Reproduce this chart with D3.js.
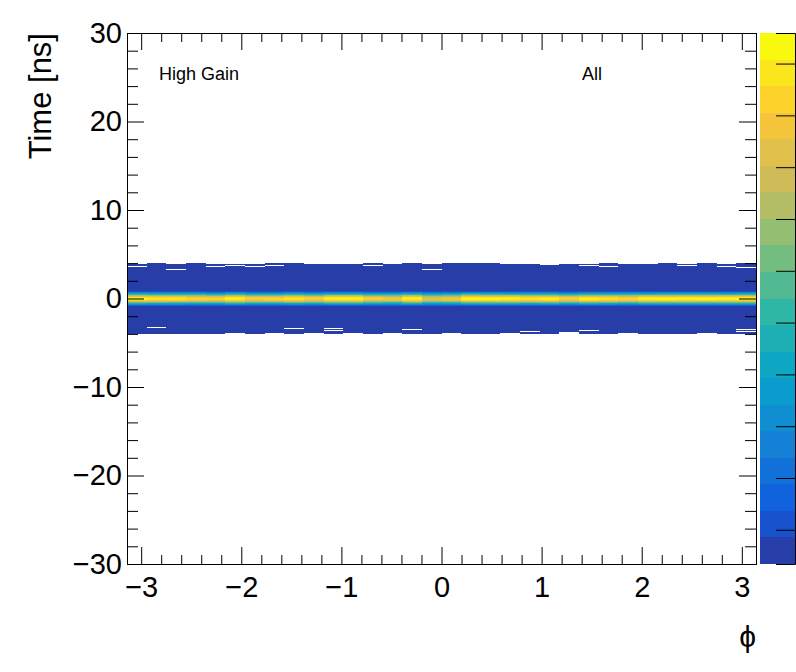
<!DOCTYPE html>
<html>
<head>
<meta charset="utf-8">
<script src="https://cdn.jsdelivr.net/npm/d3@7"></script>
<style>
  body { margin: 0; background: #fff; }
  svg { display: block; }
  text { font-family: "Liberation Sans", Arial, Helvetica, sans-serif; fill: #000; }
</style>
</head>
<body>
<svg id="chart" width="796" height="672"></svg>
<script>
// ---- data ----
var phiRange = [-Math.PI, Math.PI];
var timeRange = [-30, 30];
var nPhiBins = 32;
var timeBinWidth = 0.1;

// peak content of the core (time ~ 0) in each phi bin
var peakCounts = [1040, 1000, 990, 960, 945, 1035, 930, 950, 1000, 930, 1030,
                  1030, 920, 900, 1030, 860, 900, 1055, 1040, 1030, 1000,
                  1020, 930, 1020, 1000, 960, 1030, 1040, 1035, 1040, 1030, 1045];

// relative core shape, bins from t=+0.8 down to t=-0.9
var coreProfile = [0.12, 0.25, 0.38, 0.52, 0.68, 0.82, 0.93, 0.99,
                   1.00, 0.97, 0.90, 0.76, 0.60, 0.44, 0.30, 0.16, 0.07];

// flat background content inside the +-4 ns band
var bgCount = 60;

// upper / lower edge (ns) of the filled band in each phi bin
var bandTop = [3.9, 4.0, 3.9, 4.0, 3.9, 3.9, 3.9, 4.0, 4.0, 3.9, 3.9, 3.9, 4.0, 3.9, 4.0, 3.9,
               4.0, 4.0, 4.0, 3.9, 3.9, 3.8, 3.9, 3.9, 4.0, 3.9, 3.9, 4.0, 3.9, 4.0, 3.9, 4.0];
var bandBottom = [-4.0, -4.0, -4.0, -4.0, -4.0, -3.9, -4.0, -3.9, -4.0, -3.9, -4.0, -3.9, -4.0, -3.9, -4.0, -4.0,
                  -3.9, -4.0, -4.0, -3.9, -4.0, -4.0, -3.8, -4.0, -4.0, -3.9, -4.0, -4.0, -4.0, -3.9, -4.0, -4.0];

// empty bins inside the band: [phi bin, lower time edge]
var emptyCells = [[0, 3.6], [2, 3.4], [2, 3.2], [4, 3.6], [5, 3.7], [6, 3.6], [7, 3.7],
                  [12, 3.7], [15, 3.4], [15, 3.2], [23, 3.7], [24, 3.6], [25, 3.4],
                  [28, 3.7], [30, 3.6], [31, 3.5],
                  [1, -3.3], [8, -3.4], [10, -3.4], [10, -3.7], [12, -3.5], [14, -3.6],
                  [20, -3.8], [23, -3.7], [31, -3.6], [31, -3.8]];

var xMajorTicks = [-3, -2, -1, 0, 1, 2, 3];
var yMajorTicks = [-30, -20, -10, 0, 10, 20, 30];
var zRange = [34, 1059];
var zTicks = [100, 200, 300, 400, 500, 600, 700, 800, 900, 1000];
var nContours = 20;

// kBird palette stops
var birdStops = [0.0, 0.125, 0.25, 0.375, 0.5, 0.625, 0.75, 0.875, 1.0];
var birdRed   = [0.2082, 0.0592, 0.0780, 0.0232, 0.1802, 0.5301, 0.8186, 0.9956, 0.9764];
var birdGreen = [0.1664, 0.3599, 0.5041, 0.6419, 0.7178, 0.7492, 0.7328, 0.7862, 0.9832];
var birdBlue  = [0.5293, 0.8684, 0.8385, 0.7914, 0.6425, 0.4662, 0.3499, 0.1968, 0.0539];

// ---- drawing ----
var svg = d3.select("#chart");
var L = 127, R = 756, T = 33, B = 564;

var x = d3.scaleLinear().domain(phiRange).range([L, R]);
var y = d3.scaleLinear().domain(timeRange).range([B, T]);
var zPos = d3.scaleLinear().domain(zRange).range([B, T]);

var birdColor = d3.scaleLinear()
    .domain(birdStops)
    .range(birdStops.map(function(s, i) {
        return d3.rgb(birdRed[i] * 255, birdGreen[i] * 255, birdBlue[i] * 255);
    }))
    .interpolate(d3.interpolateRgb);

var bandColors = d3.range(nContours).map(function(k) {
    var ci = Math.floor((k + 0.99) * 255 / nContours);
    return birdColor(ci / 255);
});

function bandOf(v) {
    var k = Math.floor((v - zRange[0]) / (zRange[1] - zRange[0]) * nContours);
    return Math.max(0, Math.min(nContours - 1, k));
}

var emptySet = {};
emptyCells.forEach(function(e) { emptySet[e[0] + ":" + Math.round(e[1] * 10)] = true; });

var phiStep = (phiRange[1] - phiRange[0]) / nPhiBins;
var runs = [];
for (var c = 0; c < nPhiBins; c++) {
    var jLo = Math.round(bandBottom[c] / timeBinWidth);
    var jHi = Math.round(bandTop[c] / timeBinWidth);
    var cur = null;
    for (var j = jLo; j < jHi; j++) {
        var v = bgCount;
        var k = 7 - j;
        if (k >= 0 && k < coreProfile.length) v = Math.max(v, peakCounts[c] * coreProfile[k]);
        if (emptySet[c + ":" + j]) v = 0;
        var band = v >= zRange[0] ? bandOf(v) : -1;
        if (cur && cur.band === band) {
            cur.t1 = (j + 1) * timeBinWidth;
        } else {
            if (cur && cur.band >= 0) runs.push(cur);
            cur = { col: c, band: band, t0: j * timeBinWidth, t1: (j + 1) * timeBinWidth };
        }
    }
    if (cur && cur.band >= 0) runs.push(cur);
}

svg.append("g")
  .selectAll("rect")
  .data(runs).enter()
  .append("rect")
    .attr("x", function(d) { return x(phiRange[0] + d.col * phiStep); })
    .attr("width", function(d) { return x(phiRange[0] + (d.col + 1) * phiStep) - x(phiRange[0] + d.col * phiStep); })
    .attr("y", function(d) { return y(d.t1); })
    .attr("height", function(d) { return y(d.t0) - y(d.t1); })
    .attr("fill", function(d) { return bandColors[d.band]; })
    .attr("shape-rendering", "crispEdges");

// palette
var zStep = (zRange[1] - zRange[0]) / nContours;
svg.append("g")
  .selectAll("rect")
  .data(bandColors).enter()
  .append("rect")
    .attr("x", 760)
    .attr("width", 35)
    .attr("y", function(d, i) { return zPos(zRange[0] + (i + 1) * zStep); })
    .attr("height", function(d, i) { return zPos(zRange[0] + i * zStep) - zPos(zRange[0] + (i + 1) * zStep); })
    .attr("fill", function(d) { return d; })
    .attr("shape-rendering", "crispEdges");

var zAxis = svg.append("g")
    .attr("transform", "translate(795,0)")
    .call(d3.axisRight(zPos).tickValues(zTicks).tickSize(-19).tickFormat(""));
zAxis.select(".domain").attr("stroke", "#000");
zAxis.selectAll("line").attr("stroke", "#000");

// axes
var minorX = d3.range(-15, 16).map(function(i) { return i / 5; }).filter(function(v) { return xMajorTicks.indexOf(v) < 0; });
var minorY = d3.range(-30, 31, 2).filter(function(v) { return yMajorTicks.indexOf(v) < 0; });

function styleAxis(g) {
    g.select(".domain").remove();
    g.selectAll("line").attr("stroke", "#000").attr("stroke-width", 1);
    g.selectAll("text").attr("font-size", 29).attr("fill", "#000")
     .attr("font-family", "Liberation Sans, Arial, sans-serif");
}
function fmt(v) { return v < 0 ? "\u2212" + (-v) : String(v); }

svg.append("g").attr("transform", "translate(0," + B + ")")
    .call(d3.axisBottom(x).tickValues(xMajorTicks).tickSize(-17).tickPadding(12).tickFormat(fmt))
    .call(styleAxis);
svg.append("g").attr("transform", "translate(0," + B + ")")
    .call(d3.axisBottom(x).tickValues(minorX).tickSize(-9).tickFormat(""))
    .call(styleAxis);
svg.append("g").attr("transform", "translate(0," + T + ")")
    .call(d3.axisTop(x).tickValues(xMajorTicks).tickSize(-17).tickFormat(""))
    .call(styleAxis);
svg.append("g").attr("transform", "translate(0," + T + ")")
    .call(d3.axisTop(x).tickValues(minorX).tickSize(-9).tickFormat(""))
    .call(styleAxis);

svg.append("g").attr("transform", "translate(" + L + ",0)")
    .call(d3.axisLeft(y).tickValues(yMajorTicks).tickSize(-17).tickPadding(5).tickFormat(fmt))
    .call(styleAxis);
svg.append("g").attr("transform", "translate(" + L + ",0)")
    .call(d3.axisLeft(y).tickValues(minorY).tickSize(-11).tickFormat(""))
    .call(styleAxis);
svg.append("g").attr("transform", "translate(" + R + ",0)")
    .call(d3.axisRight(y).tickValues(yMajorTicks).tickSize(-17).tickFormat(""))
    .call(styleAxis);
svg.append("g").attr("transform", "translate(" + R + ",0)")
    .call(d3.axisRight(y).tickValues(minorY).tickSize(-11).tickFormat(""))
    .call(styleAxis);

// frame
svg.append("rect")
    .attr("x", L).attr("y", T)
    .attr("width", R - L).attr("height", B - T)
    .attr("fill", "none").attr("stroke", "#000").attr("stroke-width", 1)
    .attr("shape-rendering", "crispEdges");

// titles
svg.append("text")
    .attr("transform", "translate(51," + T + ") rotate(-90)")
    .attr("text-anchor", "end")
    .attr("font-size", 31)
    .text("Time [ns]");

svg.append("text")
    .attr("x", R).attr("y", 647)
    .attr("text-anchor", "end")
    .attr("font-size", 30)
    .text("\u03d5");

svg.append("text").attr("x", 159).attr("y", 80).attr("font-size", 18).text("High Gain");
svg.append("text").attr("x", 582).attr("y", 80).attr("font-size", 18).text("All");
</script>
</body>
</html>
